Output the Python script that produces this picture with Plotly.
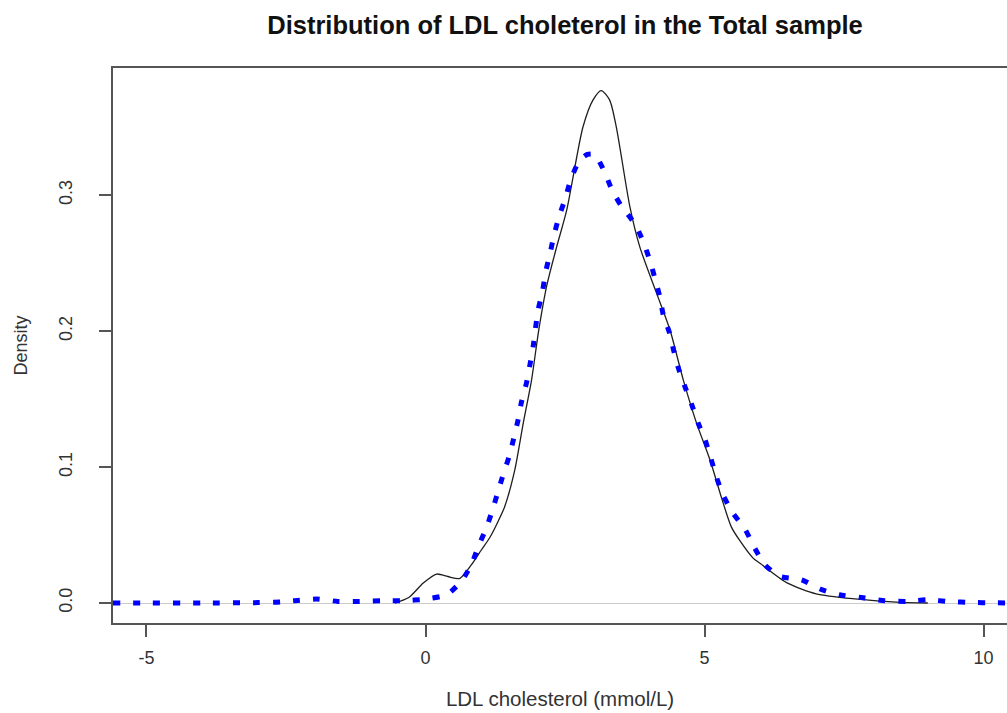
import plotly.graph_objects as go

# Observed density (solid black)
obs_x = [-0.55, -0.3, -0.04, 0.2, 0.4, 0.61, 0.82, 1.0, 1.15, 1.3, 1.42, 1.6, 1.75, 1.9,
         2.03, 2.17, 2.35, 2.53, 2.82, 3.0, 3.15, 3.3, 3.42, 3.66, 3.84, 4.14,
         4.38, 4.62, 4.86, 5.10, 5.30, 5.48, 5.63, 5.87, 6.0, 6.47, 7.0, 7.7, 8.5, 9.0]
obs_y = [0.0, 0.004, 0.0147, 0.0213, 0.0195, 0.018, 0.028, 0.039, 0.048, 0.060, 0.071, 0.098,
         0.132, 0.164, 0.201, 0.233, 0.262, 0.289, 0.350, 0.370, 0.377, 0.370, 0.350,
         0.292, 0.262, 0.228, 0.201, 0.164, 0.132, 0.105, 0.078, 0.056, 0.046, 0.033,
         0.029, 0.015, 0.0068, 0.003, 0.0005, 0.0]

# Reference density (blue dotted)
ref_x = [-5.6, -5.0, -4.0, -3.0, -2.6, -2.34, -1.95, -1.57, -1.18, -0.79, -0.4, 0.0, 0.38,
         0.65, 0.82, 0.96, 1.1, 1.2, 1.3, 1.4, 1.5, 1.58, 1.66, 1.72, 1.81, 1.87, 1.93, 1.97,
         2.02, 2.1, 2.15, 2.23, 2.3, 2.39, 2.5, 2.6, 2.75, 2.9, 3.03, 3.21, 3.34, 3.51, 3.75,
         3.9, 4.02, 4.11, 4.2, 4.26, 4.37, 4.44, 4.53, 4.65, 4.77, 4.89, 5.01, 5.11, 5.21,
         5.33, 5.5, 5.73, 5.9, 6.08, 6.35, 6.74, 7.07, 7.42, 7.81, 8.23, 8.62, 9.0, 9.4,
         9.78, 10.17, 10.5]
ref_y = [0.0, 0.0, 0.0, 0.0003, 0.0008, 0.0017, 0.0029, 0.0012, 0.0012, 0.0017, 0.0017,
         0.0029, 0.0061, 0.0164, 0.0282, 0.0429, 0.0563, 0.0686, 0.082, 0.0956, 0.108, 0.121,
         0.135, 0.148, 0.162, 0.175, 0.189, 0.202, 0.216, 0.230, 0.243, 0.257, 0.270, 0.284,
         0.297, 0.311, 0.325, 0.330, 0.330, 0.317, 0.304, 0.292, 0.279, 0.266, 0.252, 0.239,
         0.225, 0.212, 0.199, 0.187, 0.173, 0.159, 0.146, 0.132, 0.120, 0.107, 0.093, 0.0796,
         0.0666, 0.054, 0.0404, 0.0282, 0.0196, 0.0171, 0.0103, 0.0061, 0.0041, 0.0017,
         0.0012, 0.0024, 0.001, 0.0004, 0.0002, 0.0]

x_ticks = [-5, 0, 5, 10]
y_ticks = [0.0, 0.1, 0.2, 0.3]
y_tick_labels = ["0.0", "0.1", "0.2", "0.3"]

FONT = "Liberation Sans, Arial, sans-serif"

fig = go.Figure()
fig.add_trace(go.Scatter(x=obs_x, y=obs_y, mode="lines",
                         line=dict(color="#1e1e1e", width=1.3, shape="spline", smoothing=0.7),
                         showlegend=False, hoverinfo="skip"))
fig.add_trace(go.Scatter(x=ref_x, y=ref_y, mode="lines",
                         line=dict(color="#0000ff", width=5, dash="7px,13px",
                                   shape="spline", smoothing=0.6),
                         showlegend=False, hoverinfo="skip"))

fig.update_layout(
    width=1007, height=713,
    margin=dict(l=113, r=0, t=68, b=90),
    paper_bgcolor="white", plot_bgcolor="white",
    font=dict(family=FONT, color="#333333"),
    title=dict(text="<b>Distribution of LDL choleterol in the Total sample</b>",
               xref="container", x=565 / 1007, xanchor="center", y=0.965, yanchor="middle",
               font=dict(size=25.5, color="#111111", family=FONT)),
    xaxis=dict(range=[-5.6, 10.42], tickvals=x_ticks, ticktext=[str(v) for v in x_ticks],
               showgrid=False, zeroline=False, showline=True, linecolor="#555555",
               linewidth=1.5, mirror=True, ticks="outside", ticklen=12, tickcolor="#555555",
               tickwidth=1.5, tickfont=dict(size=18, color="#333333"),
               ticklabelstandoff=6,
               title=dict(text="LDL cholesterol (mmol/L)", font=dict(size=20.5, color="#333333"),
                          standoff=24)),
    yaxis=dict(range=[-0.0147, 0.3936], tickvals=y_ticks, ticktext=y_tick_labels,
               showgrid=False, zeroline=True, zerolinecolor="#cccccc", zerolinewidth=1.2,
               showline=True, linecolor="#555555", linewidth=1.5, mirror=False,
               ticks="outside", ticklen=12, tickcolor="#555555", tickwidth=1.5,
               tickangle=-90, tickfont=dict(size=18, color="#333333"),
               ticklabelstandoff=20,
               title=dict(text="Density", font=dict(size=18, color="#333333"), standoff=24)),
)

fig.write_html("out.html")
